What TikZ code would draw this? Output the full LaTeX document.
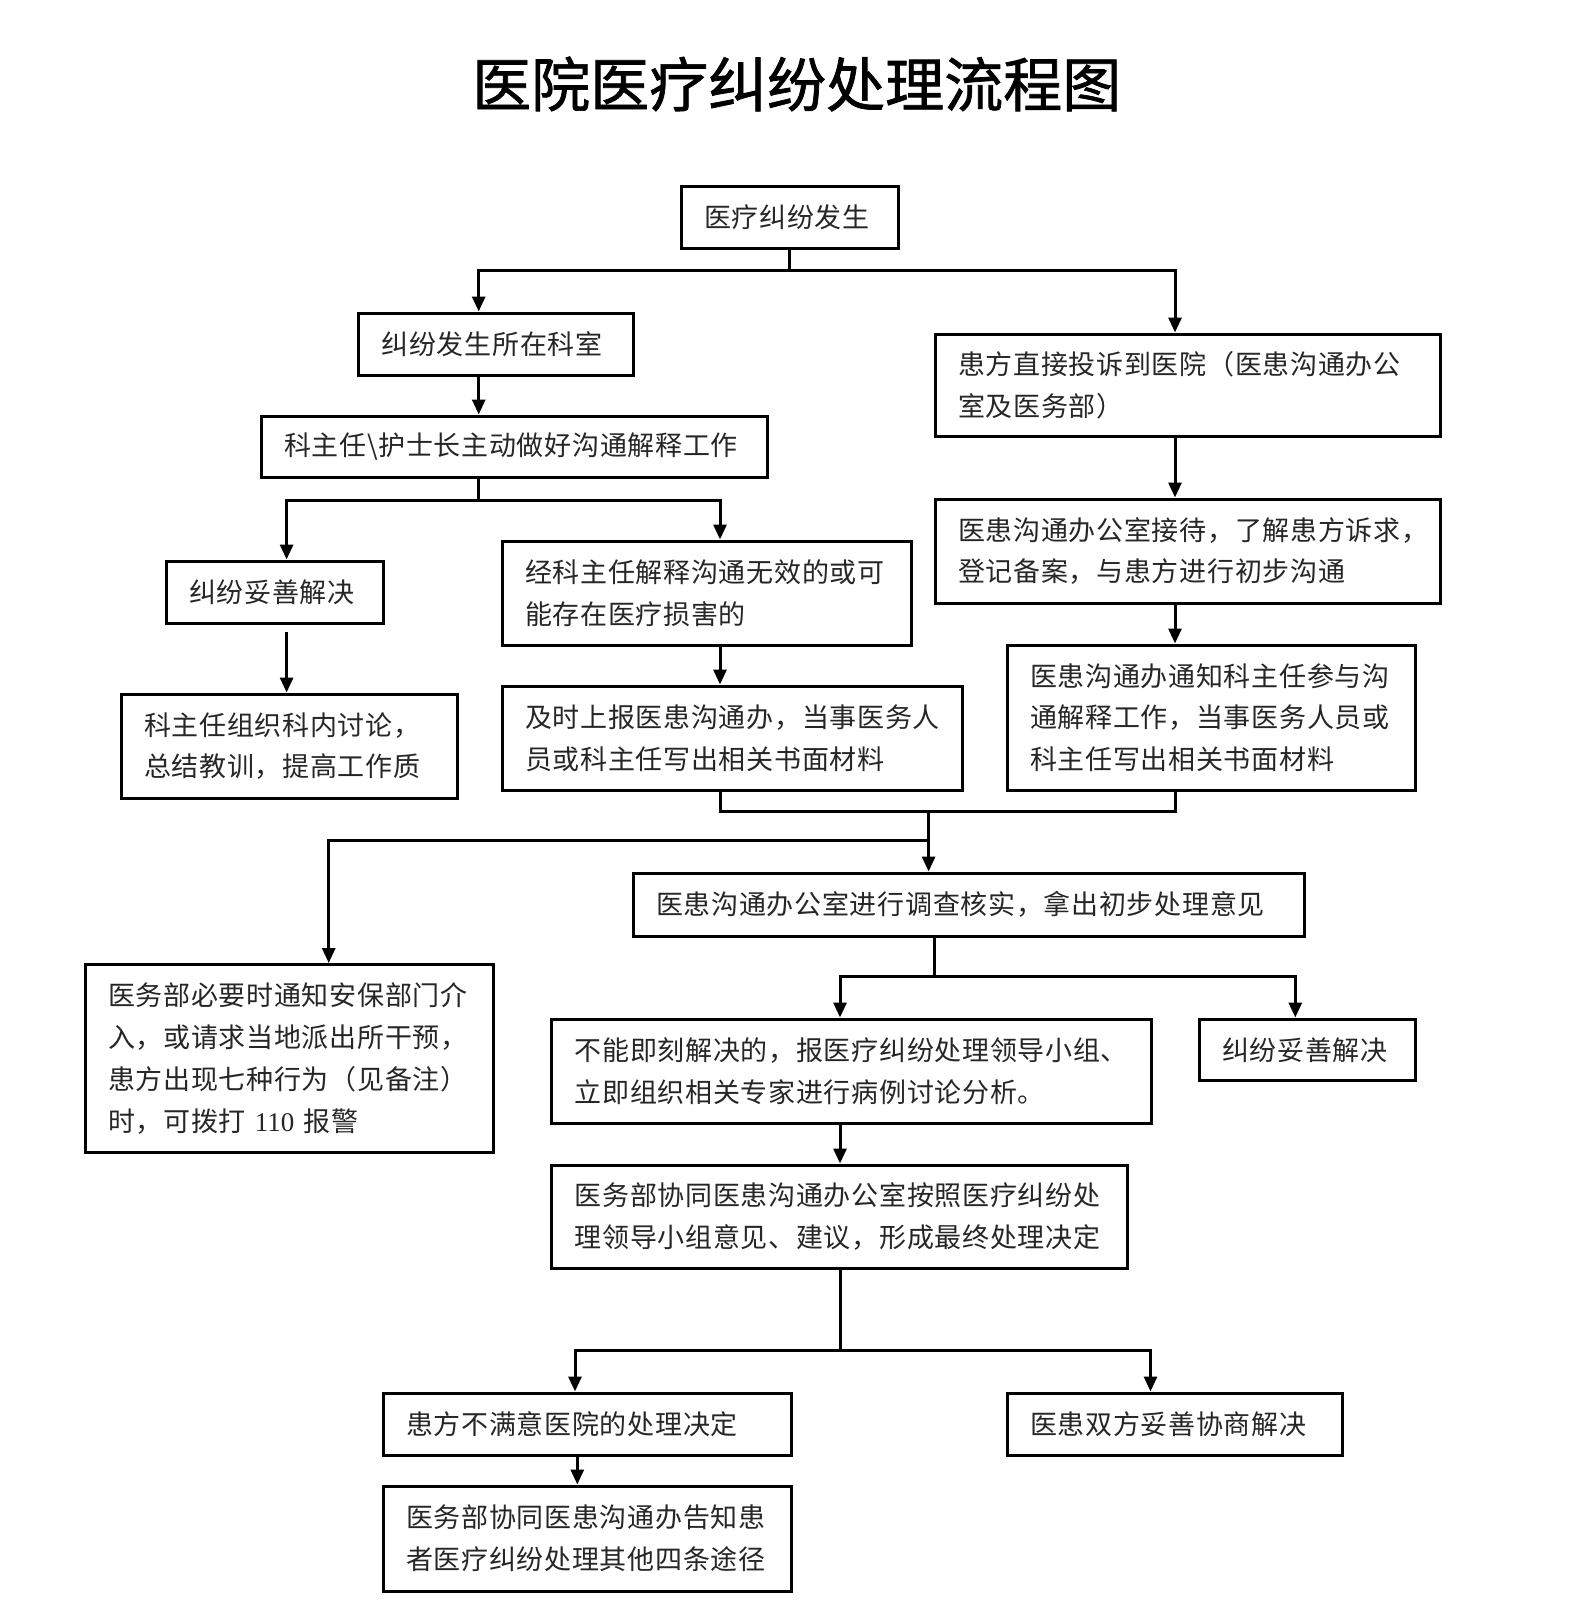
\documentclass[tikz,border=0pt]{standalone}
\usepackage{fontspec}
\setmainfont{Liberation Serif}
\newfontfamily\cjk[LetterSpace=2.6]{Noto Sans CJK SC}
\newfontfamily\cjktitle[FakeBold=1.2]{Noto Sans CJK SC}
\usetikzlibrary{arrows.meta}
\tikzset{
  box/.style={draw=black, line width=3pt, inner xsep=23pt, inner ysep=0pt, align=left,
    text=black!85, font=\cjk\fontsize{27}{41.8}\selectfont},
  ln/.style={line width=3pt},
  arr/.style={line width=3pt, -{Triangle[length=15pt,width=13pt]}},
  arrtwo/.style={line width=3pt, {Triangle[length=15pt,width=13pt]}-{Triangle[length=15pt,width=13pt]}},
}
\newcommand\bx[6]{%
  \pgfmathsetmacro\bxw{#4-#2}\pgfmathsetmacro\bxh{#5-#3}\pgfmathsetmacro\bxt{#4-#2-46}%
  \pgfmathsetmacro\bxx{(#2+#4)/2}\pgfmathsetmacro\bxy{(#3+#5)/2}%
  \node[box, minimum width=\bxw pt, minimum height=\bxh pt, text width=\bxt pt] (#1) at (\bxx,\bxy) {#6};}
\begin{document}
\begin{tikzpicture}[x=1pt,y=-1pt]
\fill[white] (0,0) rectangle (1587,1611);
\useasboundingbox (0,0) rectangle (1587,1611);
\node[anchor=west, inner sep=0pt, font=\cjktitle\fontsize{59}{59}\selectfont] (title) at (472,84) {医院医疗纠纷处理流程图};

\bx{b1}{681}{186}{898}{248}{医疗纠纷发生}
\bx{b2}{358.5}{313}{633}{375}{纠纷发生所在科室}
\bx{b3}{935}{334}{1440}{436.6}{患方直接投诉到医院（医患沟通办公\\室及医务部）}
\bx{b4}{261}{416}{767}{477.6}{科主任\textbackslash 护士长主动做好沟通解释工作}
\bx{b5}{935}{499}{1440}{603}{医患沟通办公室接待，了解患方诉求，\\登记备案，与患方进行初步沟通}
\bx{b6}{166}{561}{383}{623.5}{纠纷妥善解决}
\bx{b7}{502}{541}{911}{645}{经科主任解释沟通无效的或可\\能存在医疗损害的}
\bx{b8}{1007}{645}{1415.5}{790}{医患沟通办通知科主任参与沟\\通解释工作，当事医务人员或\\科主任写出相关书面材料}
\bx{b9}{121}{694}{457}{798}{科主任组织科内讨论，\\总结教训，提高工作质}
\bx{b10}{502}{686}{962.5}{790}{及时上报医患沟通办，当事医务人\\员或科主任写出相关书面材料}
\bx{b11}{633}{873}{1304.5}{936}{医患沟通办公室进行调查核实，拿出初步处理意见}
\bx{b12}{85}{964.5}{493}{1152.5}{医务部必要时通知安保部门介\\入，或请求当地派出所干预，\\患方出现七种行为（见备注）\\时，可拨打 {\rmfamily 110} 报警}
\bx{b13}{551.6}{1019}{1151.5}{1123}{不能即刻解决的，报医疗纠纷处理领导小组、\\立即组织相关专家进行病例讨论分析。}
\bx{b14}{1199}{1019}{1415.5}{1080.6}{纠纷妥善解决}
\bx{b15}{551.6}{1165}{1127}{1268.6}{医务部协同医患沟通办公室按照医疗纠纷处\\理领导小组意见、建议，形成最终处理决定}
\bx{b16}{383}{1393}{791}{1455.5}{患方不满意医院的处理决定}
\bx{b17}{1007}{1393}{1342.6}{1455.5}{医患双方妥善协商解决}
\bx{b18}{383}{1486}{791}{1591}{医务部协同医患沟通办告知患\\者医疗纠纷处理其他四条途径}

% junction coordinates
\coordinate (s1l) at (478.7,270);
\coordinate (s1r) at (1175,270);
\coordinate (s2l) at (286.6,500);
\coordinate (s2r) at (720,500);
\coordinate (b6t) at (286.6,631.7);
\coordinate (m1) at (928.6,811);
\coordinate (m2l) at (328.7,840);
\coordinate (s3) at (934.8,976);
\coordinate (s3l) at (840,976);
\coordinate (s3r) at (1295.3,976);
\coordinate (s4l) at (575,1350.8);
\coordinate (s4r) at (1150.5,1350.8);
\coordinate (s5) at (577.3,1350.8);

\draw[ln] (b1.south) -- (b1.south |- s1l);
\draw[arrtwo] (s1l |- b2.north) -- (s1l) -- (s1r) -- (s1r |- b3.north);
\draw[arr] (s1l |- b2.south) -- (s1l |- b4.north);
\draw[ln] (s1l |- b4.south) -- (s1l |- s2l);
\draw[arrtwo] (s2l |- b6.north) -- (s2l) -- (s2r) -- (s2r |- b7.north);
\draw[arr] (s1r |- b3.south) -- (s1r |- b5.north);
\draw[arr] (b6t) -- (b6t |- b9.north);
\draw[arr] (s2r |- b7.south) -- (s2r |- b10.north);
\draw[arr] (s1r |- b5.south) -- (s1r |- b8.north);
\draw[ln] (s2r |- b10.south) -- (s2r |- m1) -- (s1r |- m1) -- (s1r |- b8.south);
\draw[arr] (m1) -- (m1 |- b11.north);
\draw[arr] (m1 |- m2l) -- (m2l) -- (m2l |- b12.north);
\draw[ln] (s3 |- b11.south) -- (s3);
\draw[arrtwo] (s3l |- b13.north) -- (s3l) -- (s3r) -- (s3r |- b14.north);
\draw[arr] (s3l |- b13.south) -- (s3l |- b15.north);
\draw[ln] (s3l |- b15.south) -- (s3l |- s4l);
\draw[arrtwo] (s4l |- b16.north) -- (s4l) -- (s4r) -- (s4r |- b17.north);
\draw[arr] (s5 |- b16.south) -- (s5 |- b18.north);
\end{tikzpicture}
\end{document}
